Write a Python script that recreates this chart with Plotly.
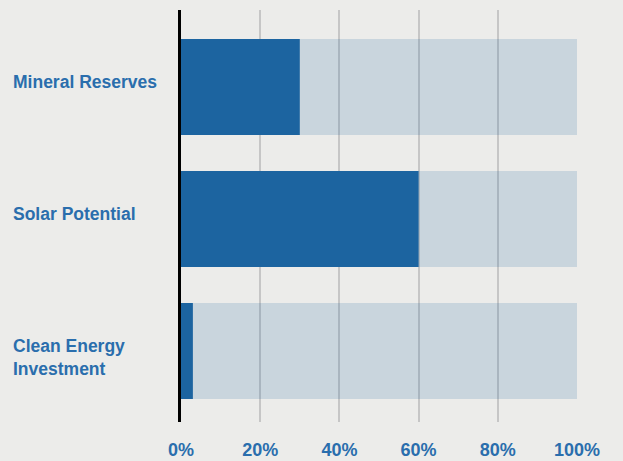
import plotly.graph_objects as go

categories = ["Clean Energy<br>Investment", "Solar Potential", "Mineral Reserves"]
values = [3, 60, 30]
totals = [100, 100, 100]
tick_vals = [0, 20, 40, 60, 80, 100]
tick_text = ["0%", "20%", "40%", "60%", "80%", "100%"]

BG = "#ececea"
DARK = "#1c64a0"
LIGHT = "rgba(28,100,160,0.17)"
TEXT = "#2a6ead"
FONT = "Liberation Sans, Arial, sans-serif"

pos = list(range(len(categories)))

fig = go.Figure()
fig.add_trace(go.Bar(y=pos, x=totals, orientation="h", marker=dict(color=LIGHT, line=dict(width=0)),
                     hoverinfo="skip", showlegend=False))
fig.add_trace(go.Bar(y=pos, x=values, orientation="h", marker=dict(color=DARK, line=dict(width=0)),
                     showlegend=False))

for p, c in zip(pos, categories):
    fig.add_annotation(x=0, xref="paper", xanchor="left", xshift=-170, y=p, yref="y",
                       yanchor="top", yshift=17, text=c, showarrow=False, align="left",
                       font=dict(family=FONT, size=17.5, color=TEXT, weight="bold"))

fig.update_layout(
    width=623, height=461, paper_bgcolor=BG, plot_bgcolor=BG,
    margin=dict(l=181, r=46, t=10, b=39, autoexpand=False),
    barmode="overlay", bargap=0.273,
    xaxis=dict(range=[0, 100], tickvals=tick_vals, ticktext=tick_text, showgrid=True,
               gridcolor="#c6c6c6", gridwidth=2, zeroline=False, showline=False,
               ticks="", ticklabelstandoff=15, automargin=False,
               tickfont=dict(family=FONT, size=18, color=TEXT, weight="bold"), fixedrange=True),
    yaxis=dict(range=[-0.538, 2.583], showticklabels=False, showgrid=False, zeroline=False,
               showline=True, linecolor="black", linewidth=3, ticks="", fixedrange=True,
               automargin=False),
)

fig.write_html("out.html")
